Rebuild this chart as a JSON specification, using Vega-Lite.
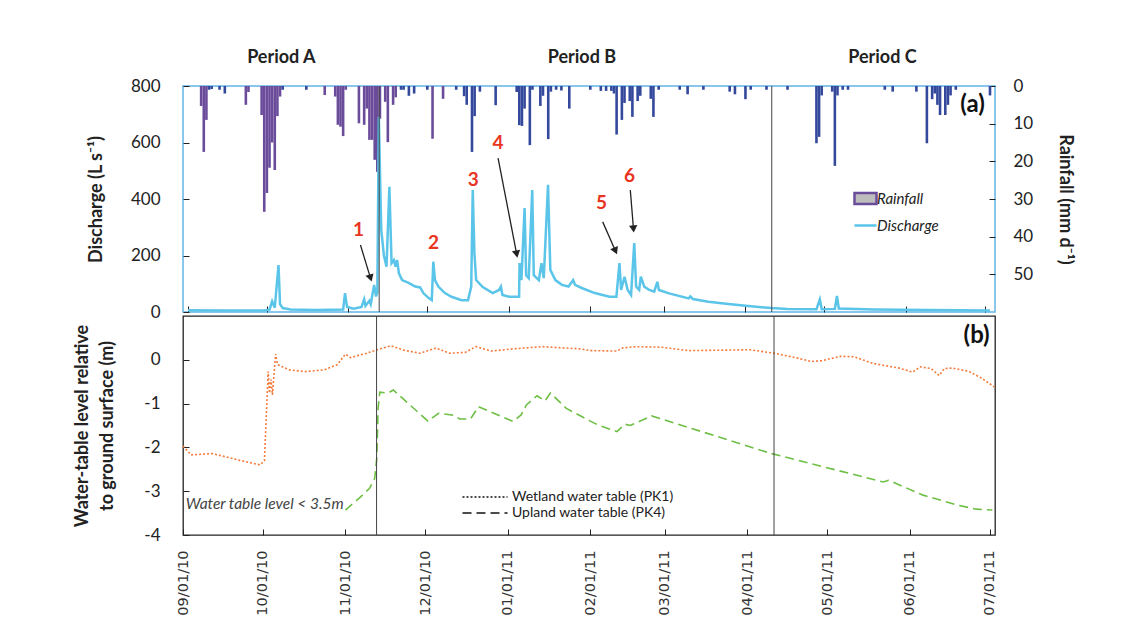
{
  "$schema": "https://vega.github.io/schema/vega-lite/v6.json",
  "background": "white",
  "padding": {"left": 73, "top": 48, "right": 10, "bottom": 5},
  "config": {
    "font": "Lato",
    "view": {"stroke": null},
    "axis": {"grid": false, "domain": false, "labelFont": "Lato", "labelFontSize": 17, "labelColor": "#222", "titleFont": "Lato", "titleFontSize": 18, "titleFontWeight": "bold", "titleColor": "#222", "tickColor": "#222", "tickSize": 6, "offset": -6, "tickWidth": 1, "labelPadding": 23}
  },
  "bounds": "flush",
  "spacing": 4,
  "resolve": {"scale": {"color": "independent", "x": "independent"}, "legend": {"color": "independent", "strokeDash": "independent"}},
  "datasets": {
    "discharge": [
      {"date":"2010-09-01","q":6},{"date":"2010-09-15","q":5},{"date":"2010-09-30","q":5},{"date":"2010-10-02","q":8},{"date":"2010-10-03","q":38},{"date":"2010-10-04","q":15},{"date":"2010-10-05T10:00","q":166},{"date":"2010-10-06","q":28},{"date":"2010-10-07","q":14},{"date":"2010-10-10","q":9},{"date":"2010-10-20","q":7},{"date":"2010-10-30","q":9},{"date":"2010-10-30T17:00","q":67},{"date":"2010-10-31T12:00","q":18},{"date":"2010-11-03","q":12},{"date":"2010-11-06","q":18},{"date":"2010-11-07","q":45},{"date":"2010-11-07T12:00","q":22},{"date":"2010-11-09","q":40},{"date":"2010-11-09T12:00","q":28},{"date":"2010-11-10T19:00","q":96},{"date":"2010-11-11T12:00","q":55},{"date":"2010-11-12T00:00","q":70},{"date":"2010-11-12T14:00","q":690},{"date":"2010-11-13T05:00","q":410},{"date":"2010-11-13T12:00","q":290},{"date":"2010-11-14T12:00","q":200},{"date":"2010-11-15T12:00","q":160},{"date":"2010-11-16T14:00","q":443},{"date":"2010-11-17T10:00","q":173},{"date":"2010-11-18T07:00","q":184},{"date":"2010-11-18T22:00","q":160},{"date":"2010-11-19T12:00","q":184},{"date":"2010-11-20T05:00","q":137},{"date":"2010-11-21T10:00","q":113},{"date":"2010-11-23T22:00","q":103},{"date":"2010-11-26T10:00","q":90},{"date":"2010-11-28T07:00","q":87},{"date":"2010-11-29T12:00","q":67},{"date":"2010-12-01T10:00","q":50},{"date":"2010-12-02T17:00","q":42},{"date":"2010-12-03T07:00","q":178},{"date":"2010-12-03T22:00","q":113},{"date":"2010-12-05T05:00","q":90},{"date":"2010-12-07T17:00","q":67},{"date":"2010-12-10T05:00","q":54},{"date":"2010-12-14","q":42},{"date":"2010-12-16T12:00","q":42},{"date":"2010-12-17T17:00","q":90},{"date":"2010-12-18T07:00","q":432},{"date":"2010-12-18T22:00","q":208},{"date":"2010-12-19T14:00","q":113},{"date":"2010-12-22T02:00","q":88},{"date":"2010-12-25T22:00","q":67},{"date":"2010-12-28T07:00","q":78},{"date":"2010-12-29","q":90},{"date":"2010-12-29T14:00","q":60},{"date":"2011-01-01T02:00","q":54},{"date":"2011-01-04T22:00","q":54},{"date":"2011-01-05T02:00","q":173},{"date":"2011-01-05T19:00","q":113},{"date":"2011-01-07","q":368},{"date":"2011-01-07T14:00","q":130},{"date":"2011-01-08T14:00","q":120},{"date":"2011-01-09T22:00","q":432},{"date":"2011-01-10T12:00","q":130},{"date":"2011-01-12T10:00","q":113},{"date":"2011-01-13T10:00","q":173},{"date":"2011-01-14T07:00","q":120},{"date":"2011-01-15T22:00","q":450},{"date":"2011-01-16T19:00","q":149},{"date":"2011-01-18T17:00","q":113},{"date":"2011-01-21T05:00","q":96},{"date":"2011-01-23T17:00","q":90},{"date":"2011-01-25T12:00","q":113},{"date":"2011-01-26T05:00","q":96},{"date":"2011-01-28T17:00","q":85},{"date":"2011-02-02T17:00","q":67},{"date":"2011-02-08T07:00","q":54},{"date":"2011-02-10T22:00","q":54},{"date":"2011-02-12T02:00","q":173},{"date":"2011-02-12T17:00","q":78},{"date":"2011-02-14","q":125},{"date":"2011-02-15T05:00","q":78},{"date":"2011-02-16T12:00","q":60},{"date":"2011-02-17T17:00","q":244},{"date":"2011-02-18T10:00","q":90},{"date":"2011-02-19T14:00","q":78},{"date":"2011-02-20T05:00","q":125},{"date":"2011-02-21T12:00","q":90},{"date":"2011-02-23T10:00","q":78},{"date":"2011-02-25T07:00","q":72},{"date":"2011-02-26T12:00","q":107},{"date":"2011-02-27T02:00","q":78},{"date":"2011-03-02T22:00","q":66},{"date":"2011-03-10T10:00","q":48},{"date":"2011-03-11","q":55},{"date":"2011-03-12","q":46},{"date":"2011-03-17T22:00","q":36},{"date":"2011-03-25T12:00","q":28},{"date":"2011-04-02","q":21},{"date":"2011-04-10T17:00","q":14},{"date":"2011-04-17","q":11},{"date":"2011-04-28","q":10},{"date":"2011-04-29T07:00","q":45},{"date":"2011-04-30","q":10},{"date":"2011-05-05","q":11},{"date":"2011-05-05T19:00","q":57},{"date":"2011-05-06T12:00","q":12},{"date":"2011-05-20","q":9},{"date":"2011-06-10","q":7},{"date":"2011-07-03","q":5}
    ],
    "rain": [
      {"date":"2010-09-06","rain":5.3,"source":"A"},{"date":"2010-09-07","rain":17.5,"source":"A"},{"date":"2010-09-08","rain":9,"source":"A"},{"date":"2010-09-09","rain":1,"source":"B"},{"date":"2010-09-10","rain":0.8,"source":"B"},{"date":"2010-09-13","rain":1,"source":"B"},{"date":"2010-09-15","rain":2,"source":"B"},{"date":"2010-09-23","rain":5,"source":"A"},{"date":"2010-09-24","rain":1.6,"source":"A"},{"date":"2010-09-29","rain":7.7,"source":"A"},{"date":"2010-09-30","rain":33.4,"source":"A"},{"date":"2010-10-01","rain":28.4,"source":"A"},{"date":"2010-10-02","rain":21.7,"source":"A"},{"date":"2010-10-03","rain":15,"source":"A"},{"date":"2010-10-04","rain":22.3,"source":"A"},{"date":"2010-10-05","rain":8,"source":"A"},{"date":"2010-10-06","rain":2.8,"source":"A"},{"date":"2010-10-07","rain":1,"source":"B"},{"date":"2010-10-16","rain":1,"source":"B"},{"date":"2010-10-23","rain":2.4,"source":"A"},{"date":"2010-10-27","rain":2.8,"source":"A"},{"date":"2010-10-28","rain":10.3,"source":"A"},{"date":"2010-10-29","rain":10.8,"source":"A"},{"date":"2010-10-30","rain":13.3,"source":"A"},{"date":"2010-10-31","rain":1,"source":"A"},{"date":"2010-11-05","rain":9.9,"source":"A"},{"date":"2010-11-07","rain":10.3,"source":"A"},{"date":"2010-11-08","rain":6,"source":"A"},{"date":"2010-11-09","rain":14.3,"source":"A"},{"date":"2010-11-10","rain":14.3,"source":"A"},{"date":"2010-11-11","rain":19.6,"source":"A"},{"date":"2010-11-12","rain":22.8,"source":"A"},{"date":"2010-11-13","rain":8.7,"source":"A"},{"date":"2010-11-15","rain":4.2,"source":"A"},{"date":"2010-11-16","rain":14.9,"source":"A"},{"date":"2010-11-18","rain":5,"source":"A"},{"date":"2010-11-19","rain":3,"source":"A"},{"date":"2010-11-21","rain":1,"source":"B"},{"date":"2010-11-22","rain":1,"source":"B"},{"date":"2010-11-24","rain":2.6,"source":"B"},{"date":"2010-11-26","rain":2,"source":"B"},{"date":"2010-12-01","rain":1,"source":"B"},{"date":"2010-12-03","rain":14,"source":"A"},{"date":"2010-12-07","rain":3.4,"source":"A"},{"date":"2010-12-12","rain":1,"source":"B"},{"date":"2010-12-15","rain":2.7,"source":"B"},{"date":"2010-12-16","rain":5,"source":"B"},{"date":"2010-12-18","rain":17.5,"source":"B"},{"date":"2010-12-19","rain":8,"source":"B"},{"date":"2010-12-21","rain":1.5,"source":"B"},{"date":"2010-12-27","rain":5.1,"source":"B"},{"date":"2011-01-04","rain":1.6,"source":"B"},{"date":"2011-01-05","rain":10.4,"source":"B"},{"date":"2011-01-06","rain":10.6,"source":"B"},{"date":"2011-01-07","rain":6,"source":"B"},{"date":"2011-01-09","rain":15.7,"source":"B"},{"date":"2011-01-10","rain":1,"source":"B"},{"date":"2011-01-13","rain":5.3,"source":"B"},{"date":"2011-01-14","rain":2.6,"source":"B"},{"date":"2011-01-16","rain":14.1,"source":"B"},{"date":"2011-01-17","rain":1.5,"source":"B"},{"date":"2011-01-19","rain":1,"source":"B"},{"date":"2011-01-21","rain":1.2,"source":"B"},{"date":"2011-01-24","rain":6,"source":"B"},{"date":"2011-02-01","rain":1,"source":"B"},{"date":"2011-02-05","rain":1.3,"source":"B"},{"date":"2011-02-07","rain":1.3,"source":"B"},{"date":"2011-02-09","rain":1.3,"source":"B"},{"date":"2011-02-10","rain":2,"source":"B"},{"date":"2011-02-11","rain":12.9,"source":"B"},{"date":"2011-02-13","rain":9,"source":"B"},{"date":"2011-02-14","rain":4.5,"source":"B"},{"date":"2011-02-16","rain":4,"source":"B"},{"date":"2011-02-17","rain":8.2,"source":"B"},{"date":"2011-02-19","rain":4,"source":"B"},{"date":"2011-02-20","rain":2.6,"source":"B"},{"date":"2011-02-24","rain":3.4,"source":"B"},{"date":"2011-02-25","rain":8.2,"source":"B"},{"date":"2011-02-27","rain":1,"source":"B"},{"date":"2011-03-07","rain":1,"source":"B"},{"date":"2011-03-10","rain":2.2,"source":"B"},{"date":"2011-03-16","rain":1,"source":"B"},{"date":"2011-03-26","rain":1.5,"source":"B"},{"date":"2011-03-28","rain":2.2,"source":"B"},{"date":"2011-04-01","rain":3.5,"source":"B"},{"date":"2011-04-03","rain":1,"source":"B"},{"date":"2011-04-09","rain":1,"source":"B"},{"date":"2011-04-17","rain":1,"source":"B"},{"date":"2011-04-28","rain":15.2,"source":"B"},{"date":"2011-04-29","rain":13.5,"source":"B"},{"date":"2011-04-30","rain":2.5,"source":"B"},{"date":"2011-05-04","rain":1.5,"source":"B"},{"date":"2011-05-05","rain":21.2,"source":"B"},{"date":"2011-05-06","rain":2.5,"source":"B"},{"date":"2011-05-08","rain":1,"source":"B"},{"date":"2011-05-10","rain":1,"source":"B"},{"date":"2011-05-24","rain":1,"source":"B"},{"date":"2011-05-27","rain":1.5,"source":"B"},{"date":"2011-06-05","rain":1.5,"source":"B"},{"date":"2011-06-09","rain":15.2,"source":"B"},{"date":"2011-06-11","rain":3.5,"source":"B"},{"date":"2011-06-12","rain":2,"source":"B"},{"date":"2011-06-13","rain":5,"source":"B"},{"date":"2011-06-14","rain":7.7,"source":"B"},{"date":"2011-06-16","rain":7.7,"source":"B"},{"date":"2011-06-17","rain":5,"source":"B"},{"date":"2011-06-18","rain":2.5,"source":"B"},{"date":"2011-06-20","rain":1,"source":"B"},{"date":"2011-07-03","rain":2.5,"source":"B"}
    ],
    "wt": [
      {"date":"2010-09-01","level":-1.97,"series":"Wetland water table (PK1)"},{"date":"2010-09-04","level":-2.17,"series":"Wetland water table (PK1)"},{"date":"2010-09-12","level":-2.14,"series":"Wetland water table (PK1)"},{"date":"2010-09-22","level":-2.29,"series":"Wetland water table (PK1)"},{"date":"2010-09-30","level":-2.4,"series":"Wetland water table (PK1)"},{"date":"2010-10-01T14:00","level":-2.3,"series":"Wetland water table (PK1)"},{"date":"2010-10-03T00:00","level":-0.27,"series":"Wetland water table (PK1)"},{"date":"2010-10-03T12:00","level":-0.76,"series":"Wetland water table (PK1)"},{"date":"2010-10-04T02:00","level":-0.45,"series":"Wetland water table (PK1)"},{"date":"2010-10-04T14:00","level":-0.8,"series":"Wetland water table (PK1)"},{"date":"2010-10-05T19:00","level":0.13,"series":"Wetland water table (PK1)"},{"date":"2010-10-06T12:00","level":-0.11,"series":"Wetland water table (PK1)"},{"date":"2010-10-11","level":-0.23,"series":"Wetland water table (PK1)"},{"date":"2010-10-17","level":-0.27,"series":"Wetland water table (PK1)"},{"date":"2010-10-24","level":-0.23,"series":"Wetland water table (PK1)"},{"date":"2010-10-29","level":-0.11,"series":"Wetland water table (PK1)"},{"date":"2010-11-01","level":0.13,"series":"Wetland water table (PK1)"},{"date":"2010-11-03","level":0.05,"series":"Wetland water table (PK1)"},{"date":"2010-11-09","level":0.15,"series":"Wetland water table (PK1)"},{"date":"2010-11-13","level":0.23,"series":"Wetland water table (PK1)"},{"date":"2010-11-18","level":0.32,"series":"Wetland water table (PK1)"},{"date":"2010-11-23","level":0.22,"series":"Wetland water table (PK1)"},{"date":"2010-11-29","level":0.15,"series":"Wetland water table (PK1)"},{"date":"2010-12-05","level":0.27,"series":"Wetland water table (PK1)"},{"date":"2010-12-10","level":0.15,"series":"Wetland water table (PK1)"},{"date":"2010-12-16","level":0.17,"series":"Wetland water table (PK1)"},{"date":"2010-12-20","level":0.3,"series":"Wetland water table (PK1)"},{"date":"2010-12-26","level":0.2,"series":"Wetland water table (PK1)"},{"date":"2011-01-03","level":0.25,"series":"Wetland water table (PK1)"},{"date":"2011-01-14","level":0.3,"series":"Wetland water table (PK1)"},{"date":"2011-01-28","level":0.25,"series":"Wetland water table (PK1)"},{"date":"2011-02-01","level":0.21,"series":"Wetland water table (PK1)"},{"date":"2011-02-11","level":0.2,"series":"Wetland water table (PK1)"},{"date":"2011-02-13","level":0.27,"series":"Wetland water table (PK1)"},{"date":"2011-02-18","level":0.3,"series":"Wetland water table (PK1)"},{"date":"2011-02-27","level":0.29,"series":"Wetland water table (PK1)"},{"date":"2011-03-10","level":0.21,"series":"Wetland water table (PK1)"},{"date":"2011-03-23","level":0.22,"series":"Wetland water table (PK1)"},{"date":"2011-04-02","level":0.23,"series":"Wetland water table (PK1)"},{"date":"2011-04-11","level":0.15,"series":"Wetland water table (PK1)"},{"date":"2011-04-19","level":0.05,"series":"Wetland water table (PK1)"},{"date":"2011-04-25","level":-0.04,"series":"Wetland water table (PK1)"},{"date":"2011-04-29","level":-0.02,"series":"Wetland water table (PK1)"},{"date":"2011-05-06","level":0.08,"series":"Wetland water table (PK1)"},{"date":"2011-05-11","level":0.07,"series":"Wetland water table (PK1)"},{"date":"2011-05-18","level":-0.08,"series":"Wetland water table (PK1)"},{"date":"2011-05-28","level":-0.19,"series":"Wetland water table (PK1)"},{"date":"2011-06-02","level":-0.28,"series":"Wetland water table (PK1)"},{"date":"2011-06-05","level":-0.16,"series":"Wetland water table (PK1)"},{"date":"2011-06-09","level":-0.2,"series":"Wetland water table (PK1)"},{"date":"2011-06-12","level":-0.36,"series":"Wetland water table (PK1)"},{"date":"2011-06-14","level":-0.2,"series":"Wetland water table (PK1)"},{"date":"2011-06-17","level":-0.19,"series":"Wetland water table (PK1)"},{"date":"2011-06-23","level":-0.26,"series":"Wetland water table (PK1)"},{"date":"2011-06-28","level":-0.42,"series":"Wetland water table (PK1)"},{"date":"2011-07-03","level":-0.63,"series":"Wetland water table (PK1)"},
      {"date":"2010-11-01","level":-3.43,"series":"Upland water table (PK4)"},{"date":"2010-11-06","level":-3.17,"series":"Upland water table (PK4)"},{"date":"2010-11-10","level":-2.94,"series":"Upland water table (PK4)"},{"date":"2010-11-12","level":-2.71,"series":"Upland water table (PK4)"},{"date":"2010-11-12T19:00","level":-2.24,"series":"Upland water table (PK4)"},{"date":"2010-11-13T07:00","level":-1.1,"series":"Upland water table (PK4)"},{"date":"2010-11-13T22:00","level":-0.74,"series":"Upland water table (PK4)"},{"date":"2010-11-17","level":-0.76,"series":"Upland water table (PK4)"},{"date":"2010-11-19","level":-0.69,"series":"Upland water table (PK4)"},{"date":"2010-12-02","level":-1.4,"series":"Upland water table (PK4)"},{"date":"2010-12-06","level":-1.22,"series":"Upland water table (PK4)"},{"date":"2010-12-11","level":-1.26,"series":"Upland water table (PK4)"},{"date":"2010-12-14","level":-1.35,"series":"Upland water table (PK4)"},{"date":"2010-12-18","level":-1.35,"series":"Upland water table (PK4)"},{"date":"2010-12-21","level":-1.07,"series":"Upland water table (PK4)"},{"date":"2011-01-03","level":-1.41,"series":"Upland water table (PK4)"},{"date":"2011-01-06","level":-1.26,"series":"Upland water table (PK4)"},{"date":"2011-01-08","level":-1.03,"series":"Upland water table (PK4)"},{"date":"2011-01-12","level":-0.82,"series":"Upland water table (PK4)"},{"date":"2011-01-15","level":-0.94,"series":"Upland water table (PK4)"},{"date":"2011-01-17","level":-0.76,"series":"Upland water table (PK4)"},{"date":"2011-01-23","level":-1.11,"series":"Upland water table (PK4)"},{"date":"2011-02-01","level":-1.4,"series":"Upland water table (PK4)"},{"date":"2011-02-04","level":-1.49,"series":"Upland water table (PK4)"},{"date":"2011-02-11","level":-1.64,"series":"Upland water table (PK4)"},{"date":"2011-02-14","level":-1.47,"series":"Upland water table (PK4)"},{"date":"2011-02-16","level":-1.5,"series":"Upland water table (PK4)"},{"date":"2011-02-24","level":-1.28,"series":"Upland water table (PK4)"},{"date":"2011-04-10","level":-2.14,"series":"Upland water table (PK4)"},{"date":"2011-05-22","level":-2.79,"series":"Upland water table (PK4)"},{"date":"2011-05-24","level":-2.75,"series":"Upland water table (PK4)"},{"date":"2011-06-06","level":-3.09,"series":"Upland water table (PK4)"},{"date":"2011-06-19","level":-3.32,"series":"Upland water table (PK4)"},{"date":"2011-06-26","level":-3.41,"series":"Upland water table (PK4)"},{"date":"2011-07-02","level":-3.43,"series":"Upland water table (PK4)"}
    ],
    "events": [{"date":"2010-11-12T17:00"},{"date":"2011-04-11T00:00"}],
    "periods": [{"date":"2010-10-06T12:00","label":"Period A"},{"date":"2011-01-28T19:00","label":"Period B"},{"date":"2011-05-23T02:00","label":"Period C"}],
    "numbers": [
      {"date":"2010-11-04T20:00","q":290,"label":"1"},{"date":"2010-12-03T10:00","q":244,"label":"2"},{"date":"2010-12-18T12:00","q":467,"label":"3"},{"date":"2010-12-27T22:00","q":598,"label":"4"},{"date":"2011-02-05T07:00","q":386,"label":"5"},{"date":"2011-02-15T22:00","q":481,"label":"6"}
    ],
    "arrows": [
      {"start":"2010-11-05T14:00","v0":237,"end":"2010-11-09T10:00","v1":120},
      {"start":"2010-12-27T22:00","v0":545,"end":"2011-01-04T00:00","v1":205},
      {"start":"2011-02-05T17:00","v0":319,"end":"2011-02-10T14:00","v1":216},
      {"start":"2011-02-16T05:00","v0":432,"end":"2011-02-17T10:00","v1":294}
    ]
  },
  "vconcat": [
    {
      "width": 812,
      "height": 226,
      "view": {"stroke": "#62b5e5", "strokeWidth": 1.5},
      "resolve": {"scale": {"y": "independent"}},
      "layer": [
        {
          "data": {"name": "rain"},
          "mark": {"type": "bar", "width": 2.6, "strokeWidth": 0},
          "encoding": {
            "x": {"field": "date", "type": "temporal", "scale": {"domain": [{"year": 2010, "month": 9, "date": 1}, {"year": 2011, "month": 7, "date": 3}]}, "axis": {"title": null, "labels": false, "tickCount": {"interval": "month", "step": 1}}},
            "y": {"field": "rain", "type": "quantitative", "scale": {"domain": [0, 60], "reverse": true}, "axis": {"orient": "right", "title": "Rainfall (mm d⁻¹)", "values": [0, 10, 20, 30, 40, 50], "titleAngle": 90, "titlePadding": 23, "labelPadding": 18}},
            "fill": {"field": "source", "type": "nominal", "scale": {"domain": ["A", "B"], "range": ["#6b4c9a", "#34489c"]}, "legend": null},
            "stroke": {"datum": "Rainfall", "scale": {"domain": ["Rainfall"], "range": ["#6b4c9a"]},
              "legend": {"title": null, "orient": "none", "legendX": 675, "legendY": 105, "symbolType": "M-2,-1H2V1H-2Z", "symbolSize": 121, "symbolFillColor": "#bdbdbd", "symbolStrokeWidth": 2.5, "labelFont": "Lato", "labelFontSize": 15, "labelFontStyle": "italic", "labelColor": "#222", "labelOffset": 4}}
          }
        },
        {
          "layer": [
            {
              "data": {"name": "discharge"},
              "mark": {"type": "line", "strokeWidth": 2.5},
              "encoding": {
                "x": {"field": "date", "type": "temporal"},
                "y": {"field": "q", "type": "quantitative", "scale": {"domain": [0, 800]}, "axis": {"orient": "left", "title": "Discharge (L s⁻¹)", "values": [0, 200, 400, 600, 800], "titlePadding": 25}},
                "color": {"datum": "Discharge", "scale": {"domain": ["Discharge"], "range": ["#5bc5e9"]},
                  "legend": {"title": null, "orient": "none", "legendX": 675, "legendY": 132, "symbolType": "M-2,0H2", "symbolSize": 121, "symbolStrokeWidth": 2.5, "labelFont": "Lato", "labelFontSize": 15, "labelFontStyle": "italic", "labelColor": "#222", "labelOffset": 4}}
              }
            },
            {
              "data": {"name": "events"},
              "mark": {"type": "rule", "color": "#444", "strokeWidth": 1},
              "encoding": {"x": {"field": "date", "type": "temporal"}}
            },
            {
              "data": {"name": "periods"},
              "mark": {"type": "text", "fontSize": 18, "fontWeight": "bold", "color": "#222", "dy": -28, "font": "Lato"},
              "encoding": {
                "x": {"field": "date", "type": "temporal"},
                "y": {"datum": 800, "type": "quantitative"},
                "text": {"field": "label"}
              }
            },
            {
              "data": {"name": "numbers"},
              "mark": {"type": "text", "fontSize": 19, "fontWeight": "bold", "color": "#e8351f", "font": "Lato"},
              "encoding": {
                "x": {"field": "date", "type": "temporal"},
                "y": {"field": "q", "type": "quantitative"},
                "text": {"field": "label"}
              }
            },
            {
              "data": {"name": "arrows"},
              "mark": {"type": "rule", "color": "#222", "strokeWidth": 1.3},
              "encoding": {
                "x": {"field": "start", "type": "temporal"},
                "x2": {"field": "end"},
                "y": {"field": "v0", "type": "quantitative"},
                "y2": {"field": "v1"}
              }
            },
            {
              "data": {"name": "arrows"},
              "transform": [{"calculate": "-atan2((toDate(datum.end) - toDate(datum.start)) / 86400000 * 2.66, (datum.v0 - datum.v1) * 0.2825) * 180 / PI", "as": "ang"}],
              "mark": {"type": "point", "shape": "triangle-down", "filled": true, "color": "#222", "opacity": 1, "size": 70},
              "encoding": {
                "x": {"field": "end", "type": "temporal"},
                "y": {"field": "v1", "type": "quantitative"},
                "angle": {"field": "ang", "type": "quantitative", "scale": null}
              }
            },
            {
              "data": {"values": [{"t": "(a)"}]},
              "mark": {"type": "text", "fontSize": 24, "fontWeight": "bold", "color": "#111", "align": "right", "font": "Lato"},
              "encoding": {
                "x": {"datum": {"year": 2011, "month": 7, "date": 1}, "type": "temporal"},
                "y": {"datum": 733, "type": "quantitative"},
                "text": {"field": "t"}
              }
            }
          ]
        }
      ]
    },
    {
      "width": 812,
      "height": 219,
      "view": {"stroke": "#222", "strokeWidth": 1.3},
      "layer": [
        {
          "data": {"name": "wt"},
          "mark": {"type": "line", "strokeWidth": 1.6},
          "encoding": {
            "x": {"field": "date", "type": "temporal", "scale": {"domain": [{"year": 2010, "month": 9, "date": 1}, {"year": 2011, "month": 7, "date": 3}]}, "axis": {"title": null, "format": "%m/%d/%y", "labelAngle": -90, "labelFont": "DejaVu Sans", "labelFontSize": 14.5, "labelColor": "#333", "labelPadding": 15, "tickCount": {"interval": "month", "step": 1}}},
            "y": {"field": "level", "type": "quantitative", "scale": {"domain": [-4, 1]}, "axis": {"title": ["Water-table level relative", "to ground surface (m)"], "titleLineHeight": 25, "values": [-4, -3, -2, -1, 0], "labelExpr": "'' + datum.value", "titlePadding": 27}},
            "color": {"condition": {"test": "datum.series === 'Upland water table (PK4)'", "value": "#6ebf46"}, "value": "#f47b3b"},
            "strokeDash": {"field": "series", "type": "nominal", "scale": {"domain": ["Wetland water table (PK1)", "Upland water table (PK4)"], "range": [[2, 2], [9, 5]]},
              "legend": {"title": null, "orient": "none", "legendX": 277, "legendY": 174, "symbolType": "M-5,0H5", "symbolSize": 81, "symbolStrokeColor": "#111", "symbolStrokeWidth": 1.3, "labelFont": "Lato", "labelFontSize": 14, "labelColor": "#222", "labelLimit": 400, "rowPadding": 2, "symbolOffset": 18, "labelOffset": 20}}
          }
        },
        {
          "data": {"name": "events"},
          "mark": {"type": "rule", "color": "#444", "strokeWidth": 1},
          "encoding": {"x": {"field": "date", "type": "temporal"}}
        },
        {
          "data": {"values": [{"date": "2010-09-02", "level": -3.3, "t": "Water table level < 3.5m"}]},
          "mark": {"type": "text", "align": "left", "fontStyle": "italic", "fontSize": 15.5, "color": "#444", "font": "Lato"},
          "encoding": {
            "x": {"field": "date", "type": "temporal"},
            "y": {"field": "level", "type": "quantitative"},
            "text": {"field": "t"}
          }
        },
        {
          "data": {"values": [{"t": "(b)"}]},
          "mark": {"type": "text", "fontSize": 24, "fontWeight": "bold", "color": "#111", "align": "right", "font": "Lato"},
          "encoding": {
            "x": {"datum": {"year": 2011, "month": 7, "date": 1}, "type": "temporal"},
            "y": {"datum": 0.55, "type": "quantitative"},
            "text": {"field": "t"}
          }
        }
      ]
    }
  ]
}
